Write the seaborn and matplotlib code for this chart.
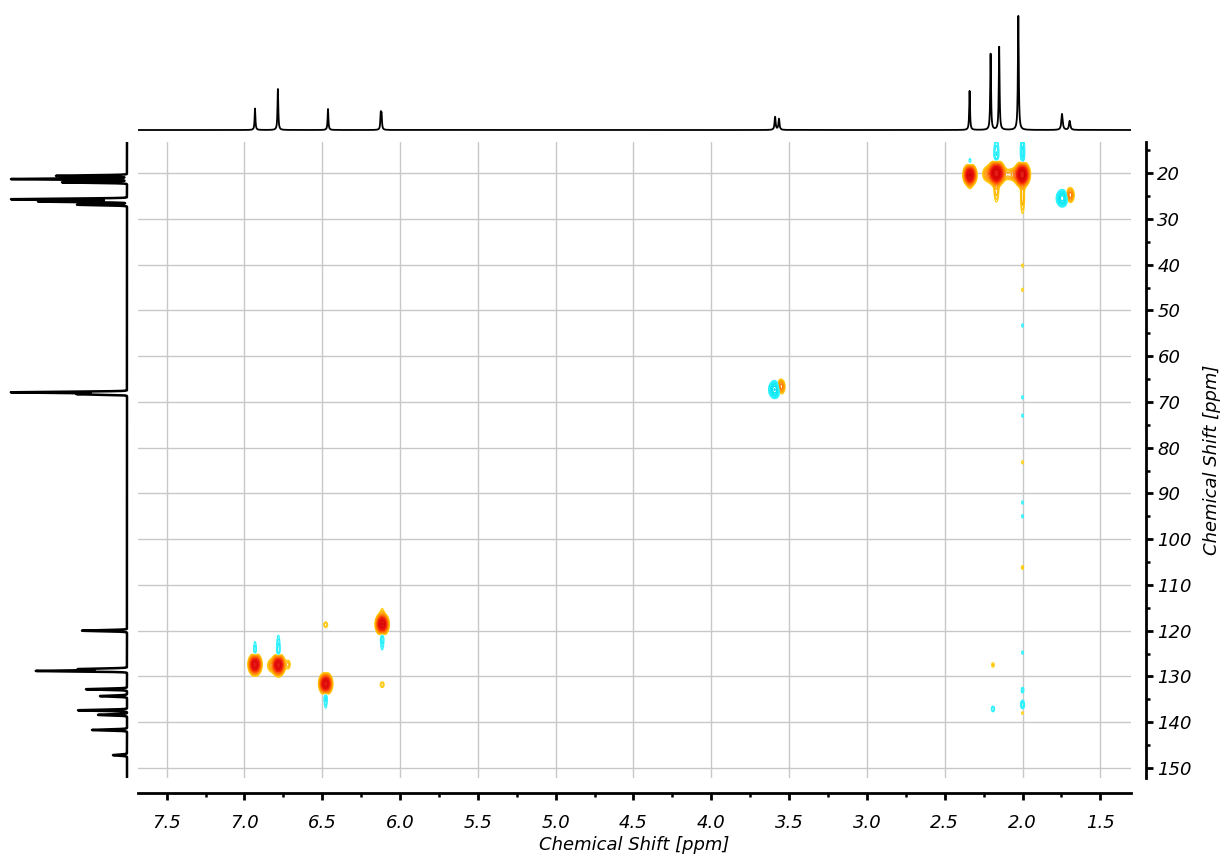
import numpy as np
import matplotlib
matplotlib.use("Agg")
import matplotlib.pyplot as plt
from matplotlib.colors import LinearSegmentedColormap
from matplotlib.ticker import MultipleLocator
import seaborn as sns

# ---------------- 1H projection (top trace) ----------------
h1_shift = [6.932, 6.785, 6.463, 6.124, 6.119, 3.590, 3.565, 2.340, 2.205, 2.150, 2.027, 1.746, 1.697]
h1_height = [21.5, 41.0, 21.0, 15.0, 14.0, 13.0, 11.0, 39.0, 76.0, 83.0, 114.0, 16.0, 9.0]
h1_width = [0.0030, 0.0030, 0.0030, 0.0030, 0.0030, 0.0040, 0.0040, 0.0030, 0.0030, 0.0030, 0.0032, 0.0050, 0.0050]

# ---------------- 13C projection (left trace) ----------------
c13_shift = [20.6, 21.3, 22.0, 25.7, 26.2, 26.9, 67.9, 68.3, 120.0, 128.4, 128.8,
             132.8, 134.3, 137.4, 138.4, 141.7, 147.2]
c13_height = [71, 116, 65, 116, 89, 50, 116, 50, 45, 49, 91, 41, 27, 49, 29, 35, 14]

# ---------------- HSQC cross peaks ----------------
# 1H shift, 13C shift, signed amplitude, 1H width, 13C width
xp_h = [6.932, 6.782, 6.478, 6.115, 2.338, 2.168, 2.002,
        3.553, 3.592, 1.694, 1.745,
        6.478, 6.115, 2.190, 2.000, 2.000, 2.000, 2.000, 2.000,
        6.830, 6.720, 2.225, 2.100, 2.050,
        2.000, 2.168, 2.338, 6.932, 6.782, 6.478, 6.115,
        2.000, 2.168, 2.338, 6.115, 6.932, 6.782,
        2.000, 2.000, 2.000, 2.000, 2.000, 2.000, 2.000, 2.000, 2.190]
xp_c = [127.4, 127.5, 131.6, 118.6, 20.4, 20.0, 20.3,
        66.7, 67.3, 24.8, 25.5,
        118.7, 131.8, 127.5, 137.9, 106.2, 83.2, 40.2, 45.5,
        127.6, 127.4, 20.2, 20.3, 20.3,
        15.5, 16.0, 18.0, 126.5, 126.0, 133.5, 120.8,
        25.0, 23.5, 22.2, 116.5, 129.5, 129.5,
        53.3, 69.0, 73.0, 92.0, 95.0, 124.8, 133.0, 136.2, 137.1]
xp_amp = [1.0, 1.0, 1.0, 1.0, 1.0, 1.3, 1.3,
          0.22, -0.40, 0.20, -0.35,
          0.06, 0.06, 0.05, 0.05, 0.05, 0.045, 0.045, 0.045,
          0.09, 0.07, 0.12, 0.08, 0.12,
          -0.10, -0.09, -0.06, -0.09, -0.10, -0.09, -0.09,
          0.08, 0.08, 0.05, 0.06, 0.05, 0.06,
          -0.045, -0.045, -0.045, -0.045, -0.045, -0.045, -0.06, -0.08, -0.06]
xp_wh = [0.018, 0.018, 0.018, 0.018, 0.018, 0.022, 0.020,
         0.014, 0.018, 0.014, 0.018,
         0.012, 0.012, 0.010, 0.010, 0.008, 0.008, 0.008, 0.008,
         0.015, 0.012, 0.020, 0.030, 0.020,
         0.010, 0.012, 0.010, 0.009, 0.009, 0.009, 0.009,
         0.010, 0.012, 0.010, 0.010, 0.010, 0.010,
         0.008, 0.008, 0.008, 0.008, 0.008, 0.008, 0.008, 0.010, 0.010]
xp_wc = [1.0, 1.0, 1.0, 1.0, 1.0, 1.1, 1.1,
         0.9, 0.9, 0.9, 0.9,
         0.6, 0.6, 0.6, 0.5, 0.5, 0.5, 0.5, 0.5,
         0.9, 0.8, 1.0, 0.8, 0.8,
         2.5, 2.5, 1.2, 3.0, 3.5, 2.5, 2.5,
         3.0, 2.2, 1.0, 1.5, 1.0, 1.5,
         0.5, 0.5, 0.5, 0.5, 0.5, 0.5, 0.6, 0.8, 0.6]

x_ticks = [7.5, 7.0, 6.5, 6.0, 5.5, 5.0, 4.5, 4.0, 3.5, 3.0, 2.5, 2.0, 1.5]
y_ticks = list(range(20, 151, 10))

H_LIM = (7.684, 1.303)
C_LIM = (152.2, 13.2)

sns.set_theme(style="white")
plt.rcParams["font.family"] = ["DejaVu Sans"]
plt.rcParams["font.style"] = "italic"

W, Hpx = 1221, 857
fig = plt.figure(figsize=(W / 100, Hpx / 100), dpi=100)


def px_axes(x0, y0, x1, y1):
    return fig.add_axes([x0 / W, 1 - y1 / Hpx, (x1 - x0) / W, (y1 - y0) / Hpx])


ax = px_axes(138, 142, 1131, 778)
ax_top = px_axes(138, 5, 1131, 135)
ax_left = px_axes(5, 142, 130, 778)

# ---- 2D map ----
hh = np.linspace(1.30, 7.70, 1700)
cc = np.linspace(13.0, 153.0, 1500)
Z = np.zeros((cc.size, hh.size))
for h, c, a, wh, wc in zip(xp_h, xp_c, xp_amp, xp_wh, xp_wc):
    gh = np.exp(-0.5 * ((hh - h) / wh) ** 2)
    gc = np.exp(-0.5 * ((cc - c) / wc) ** 2)
    Z += a * np.outer(gc, gh)

base = 0.035
pos_levels = base * 1.35 ** np.arange(12)
neg_levels = -pos_levels[::-1]

warm = LinearSegmentedColormap.from_list(
    "warm", ["#FFD21A", "#FFB000", "#FF8A00", "#FF4A00", "#E81010", "#D00000"])
cool = LinearSegmentedColormap.from_list("cool", ["#00CFFF", "#00E8F0", "#33F2FF"])

ax.contourf(hh, cc, Z, levels=[0.3, 10], colors=["#E41A14"], zorder=2)
ax.contour(hh, cc, Z, levels=pos_levels,
           colors=[warm(i) for i in np.linspace(0, 1, len(pos_levels))],
           linewidths=0.9, zorder=3)
ax.contour(hh, cc, Z, levels=neg_levels,
           colors=[cool(i) for i in np.linspace(0, 1, len(neg_levels))],
           linewidths=0.9, zorder=3)

ax.set_xlim(*H_LIM)
ax.set_ylim(*C_LIM)
ax.set_xticks(x_ticks)
ax.set_xticklabels([f"{v:.1f}" for v in x_ticks])
ax.xaxis.set_minor_locator(MultipleLocator(0.25))
ax.set_yticks(y_ticks)
ax.set_yticklabels([str(v) for v in y_ticks])
ax.yaxis.set_minor_locator(MultipleLocator(5))
ax.yaxis.tick_right()
ax.yaxis.set_label_position("right")
ax.grid(True, which="major", color="#C8C8C8", linewidth=1.0, zorder=0)
ax.set_axisbelow(True)

for side in ("left", "top"):
    ax.spines[side].set_visible(False)
for side in ("right", "bottom"):
    ax.spines[side].set_visible(True)
    ax.spines[side].set_position(("outward", 11))
    ax.spines[side].set_linewidth(2.0)
    ax.spines[side].set_color("black")

ax.tick_params(axis="both", which="major", direction="out", length=5, width=2.0,
               color="black", labelsize=13, labelcolor="black")
ax.tick_params(axis="both", which="minor", direction="out", length=3, width=1.8,
               color="black")
ax.tick_params(axis="x", which="both", bottom=True, top=False, pad=10)
ax.tick_params(axis="y", which="both", right=True, left=False, pad=3)
ax.set_xlabel("Chemical Shift [ppm]", fontsize=13, labelpad=3, color="black")
ax.set_ylabel("Chemical Shift [ppm]", fontsize=13, labelpad=8, color="black",
              rotation=90)

# ---- 1H trace ----
hx = np.arange(1.30, 7.70, 0.0005)
hy = np.zeros_like(hx)
for s, a, w in zip(h1_shift, h1_height, h1_width):
    hy += a * w ** 2 / ((hx - s) ** 2 + w ** 2)
sns.lineplot(x=hx, y=hy, ax=ax_top, color="black", linewidth=1.3,
             estimator=None, sort=False)
ax_top.set_xlim(*H_LIM)
ax_top.set_ylim(-5, 125)
ax_top.axis("off")

# ---- 13C trace ----
cy = np.arange(13.0, 153.0, 0.01)
cx = np.zeros_like(cy)
for s, a in zip(c13_shift, c13_height):
    cx += a * np.exp(-0.5 * ((cy - s) / 0.12) ** 2)
sns.lineplot(x=cx, y=cy, ax=ax_left, color="black", linewidth=1.8,
             estimator=None, sort=False, orient="y")
ax_left.set_xlim(122, -3)
ax_left.set_ylim(*C_LIM)
ax_left.axis("off")

fig.savefig("out.png", dpi=100, facecolor="white")
